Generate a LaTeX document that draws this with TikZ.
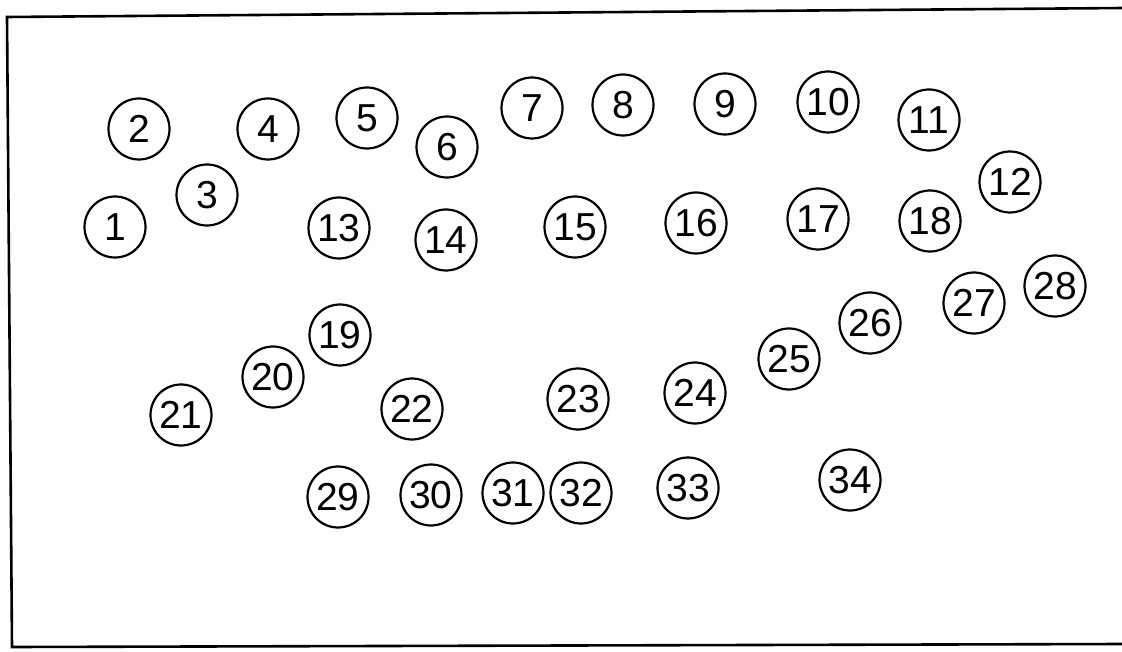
\documentclass[tikz,border=0pt]{standalone}
\usepackage{fontspec}
\setmainfont{Liberation Sans}
\begin{document}
\begin{tikzpicture}[x=1pt,y=-1pt,
  num/.style={draw, circle, line width=2.2pt, minimum size=61pt, inner sep=0pt,
    font=\fontsize{39}{39}\selectfont}]
\useasboundingbox (0,0) rectangle (1122,652);
% frame
\draw[line width=2.6pt] (1124,8) -- (7,17) -- (12,647) -- (1124,644);
% circles
\node[num] (n1)  at (115,227) {1};
\node[num] (n2)  at (139,129) {2};
\node[num] (n3)  at (207,195) {3};
\node[num] (n4)  at (268,129) {4};
\node[num] (n5)  at (367,118) {5};
\node[num] (n6)  at (447,147) {6};
\node[num] (n7)  at (532,108) {7};
\node[num] (n8)  at (623,105) {8};
\node[num] (n9)  at (725,104) {9};
\node[num] (n10) at (828,102) {10};
\node[num] (n11) at (929,120) {11};
\node[num] (n12) at (1010,182) {12};
\node[num] (n13) at (339,228) {13};
\node[num] (n14) at (446,240) {14};
\node[num] (n15) at (575,227) {15};
\node[num] (n16) at (696,223) {16};
\node[num] (n17) at (818,219) {17};
\node[num] (n18) at (930,221) {18};
\node[num] (n19) at (340,335) {19};
\node[num] (n20) at (273,377) {20};
\node[num] (n21) at (181,415) {21};
\node[num] (n22) at (412,409) {22};
\node[num] (n23) at (578,399) {23};
\node[num] (n24) at (695,393) {24};
\node[num] (n25) at (789,359) {25};
\node[num] (n26) at (870,323) {26};
\node[num] (n27) at (974,303) {27};
\node[num] (n28) at (1055,286) {28};
\node[num] (n29) at (338,497) {29};
\node[num] (n30) at (431,495) {30};
\node[num] (n31) at (513,493) {31};
\node[num] (n32) at (581,493) {32};
\node[num] (n33) at (688,488) {33};
\node[num] (n34) at (850,480) {34};
\end{tikzpicture}
\end{document}
